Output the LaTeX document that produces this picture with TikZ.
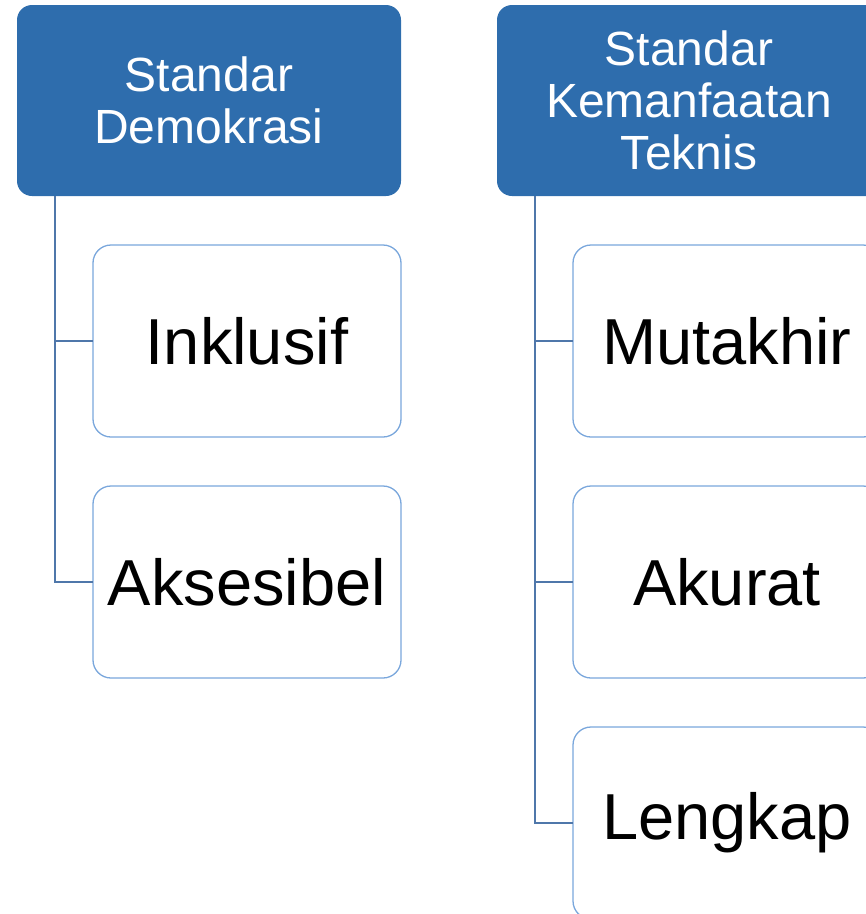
\documentclass[tikz,border=0pt]{standalone}
\usepackage{fontspec}
\setmainfont{Liberation Sans}
\usetikzlibrary{positioning}
\definecolor{hdblue}{RGB}{46,109,173}
\definecolor{boxblue}{RGB}{122,167,220}
\definecolor{linkblue}{RGB}{79,119,170}

\begin{document}
\begin{tikzpicture}[x=1pt,y=-1pt,
  head/.style={fill=hdblue, text=white, rounded corners=15pt, minimum width=384pt, minimum height=191pt, inner sep=0pt, outer sep=0pt, align=center, font=\fontsize{48}{52}\selectfont},
  item/.style={draw=boxblue, line width=1.3pt, fill=white, rounded corners=18pt, minimum width=308pt, minimum height=192pt, inner sep=0pt, outer sep=0pt, font=\fontsize{65}{70}\selectfont},
  link/.style={draw=linkblue, line width=1.3pt}]
\useasboundingbox (0,0) rectangle (866,914);
\clip (0,0) rectangle (866,914);
% headers
\node[head] (hd1) at (209,100.5) {Standar\\Demokrasi};
\node[head, right=96pt of hd1] (hd2) {Standar\\Kemanfaatan\\Teknis};
\coordinate (t1) at ([xshift=38pt]hd1.south west);
\coordinate (t2) at ([xshift=38pt]hd2.south west);
% items
\node[item, below right=49pt and 76pt of hd1.south west] (inkl) {Inklusif};
\node[item, below=49pt of inkl] (akse) {Aksesibel};
\node[item, below right=49pt and 76pt of hd2.south west] (muta) {Mutakhir};
\node[item, below=49pt of muta] (akur) {Akurat};
\node[item, below=49pt of akur] (leng) {Lengkap};
% connectors
\foreach \c in {inkl,akse} \draw[link] (t1) |- (\c.west);
\foreach \c in {muta,akur,leng} \draw[link] (t2) |- (\c.west);
\end{tikzpicture}
\end{document}
